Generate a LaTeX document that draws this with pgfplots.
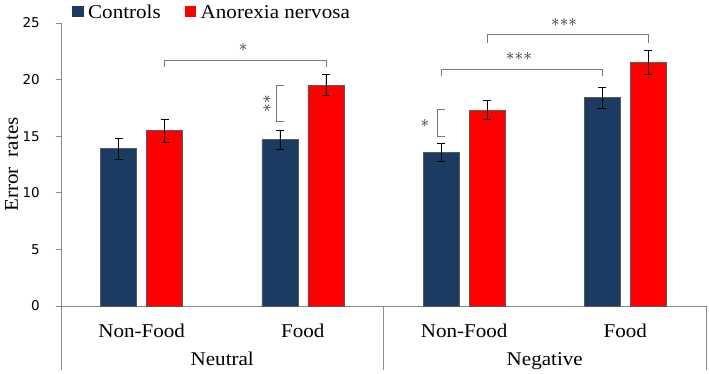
\documentclass[border=0pt]{standalone}
\usepackage{fontspec}
\setmainfont{Liberation Serif}[FakeStretch=1.08]
\newfontfamily\ticksans{DejaVu Sans}
\usepackage{pgfplots}
\pgfplotsset{compat=1.18}

\definecolor{ctrlblue}{HTML}{1B3B62}
\definecolor{anred}{HTML}{FF0000}
\definecolor{axisgray}{HTML}{8C8C8C}
\definecolor{brgray}{HTML}{7A7A7A}

\newcommand{\lbl}{\rmfamily\fontsize{19.5}{22}\selectfont}
\newcommand{\stars}[1]{\fontsize{19}{19}\selectfont\color{black!85}$#1$}

\begin{document}
\begin{tikzpicture}
\begin{axis}[
  name=ax,
  scale only axis, width=645pt, height=283pt,
  xmin=-0.5, xmax=3.5, ymin=0, ymax=25,
  ybar=10pt, bar width=36pt,
  axis lines=left,
  axis line style={-, draw=axisgray, line width=0.9pt},
  xtick={0,1,2,3},
  xticklabels={Non-Food,Food,Non-Food,Food},
  x tick style={draw=none},
  xticklabel style={font=\lbl, anchor=base, yshift=-26.3pt},
  ytick={0,5,...,25},
  y tick style={draw=axisgray, line width=0.9pt},
  tick align=outside, major tick length=5pt,
  yticklabel style={font=\ticksans\fontsize{13.5}{16}\selectfont, inner sep=0pt, anchor=east, xshift=-16pt},
  /pgf/number format/assume math mode=true,
  clip=false,
  legend style={draw=none, fill=none, font=\lbl,
    at={(axis description cs:0,1)}, anchor=south west,
    xshift=8pt, yshift=-1.5pt,
    legend columns=-1,
    /tikz/every odd column/.append style={column sep=3pt},
    /tikz/every even column/.append style={column sep=22pt}},
  error bars/error mark options={rotate=90, black, line width=0.7pt, mark size=4pt},
]
\addplot[fill=ctrlblue, draw=gray!70!black, line width=0.5pt,
  legend image code/.code={\fill[ctrlblue] (0pt,-3.5pt) rectangle (10.5pt,6.5pt);},
  error bars/.cd, y dir=both, y explicit,
  error bar style={black, line width=0.7pt}]
  coordinates {(0,13.9) +- (0,0.95) (1,14.7) +- (0,0.85) (2,13.6) +- (0,0.8) (3,18.4) +- (0,0.95)};
\addlegendentry{Controls}
\addplot[fill=anred, draw=gray!70!black, line width=0.5pt,
  legend image code/.code={\fill[anred] (0pt,-3.5pt) rectangle (10.5pt,6.5pt);},
  error bars/.cd, y dir=both, y explicit,
  error bar style={black, line width=0.7pt}]
  coordinates {(0,15.5) +- (0,1.0) (1,19.5) +- (0,0.93) (2,17.3) +- (0,0.85) (3,21.5) +- (0,1.05)};
\addlegendentry{Anorexia nervosa}

% category frame below the x axis
\draw[axisgray, line width=0.9pt] (axis cs:-0.5,0) -- ([yshift=-64pt]axis cs:-0.5,0);
\draw[axisgray, line width=0.9pt] (axis cs:1.5,0) -- ([yshift=-64pt]axis cs:1.5,0);
\draw[axisgray, line width=0.9pt] (axis cs:3.5,0) -- ([yshift=-64pt]axis cs:3.5,0);
\node[font=\lbl, anchor=base] at ([yshift=-59.7pt]axis cs:0.5,0) {Neutral};
\node[font=\lbl, anchor=base] at ([yshift=-59.7pt]axis cs:2.5,0) {Negative};

% significance brackets
\draw[brgray, line width=0.8pt] (axis cs:0.143,21.15) -- (axis cs:0.143,21.7) -- (axis cs:1.143,21.7) -- (axis cs:1.143,21.15);
\node at (axis cs:0.63,22.8) {\stars{\ast}};
\draw[brgray, line width=0.8pt] (axis cs:0.883,19.52) -- (axis cs:0.838,19.52) -- (axis cs:0.838,16.28) -- (axis cs:0.883,16.28);
\node[rotate=90] at (axis cs:0.78,17.9) {\stars{\mathord{\ast}\mathord{\ast}}};
\draw[brgray, line width=0.8pt] (axis cs:1.881,17.40) -- (axis cs:1.836,17.40) -- (axis cs:1.836,14.96) -- (axis cs:1.881,14.96);
\node at (axis cs:1.757,16.15) {\stars{\ast}};
\draw[brgray, line width=0.8pt] (axis cs:1.857,20.32) -- (axis cs:1.857,20.94) -- (axis cs:2.857,20.94) -- (axis cs:2.857,20.32);
\node at (axis cs:2.34,22.05) {\stars{\mathord{\ast}\mathord{\ast}\mathord{\ast}}};
\draw[brgray, line width=0.8pt] (axis cs:2.143,23.26) -- (axis cs:2.143,24.0) -- (axis cs:3.143,24.0) -- (axis cs:3.143,23.26);
\node at (axis cs:2.62,25.05) {\stars{\mathord{\ast}\mathord{\ast}\mathord{\ast}}};
\end{axis}
\node[rotate=90, anchor=base, font=\lbl] at ([xshift=-43pt]ax.west) {Error\hspace{5pt} rates};
\pgfresetboundingbox
\path ([xshift=-61pt,yshift=-68pt]ax.south west) rectangle ([xshift=648pt,yshift=306pt]ax.south west);
\end{tikzpicture}
\end{document}
